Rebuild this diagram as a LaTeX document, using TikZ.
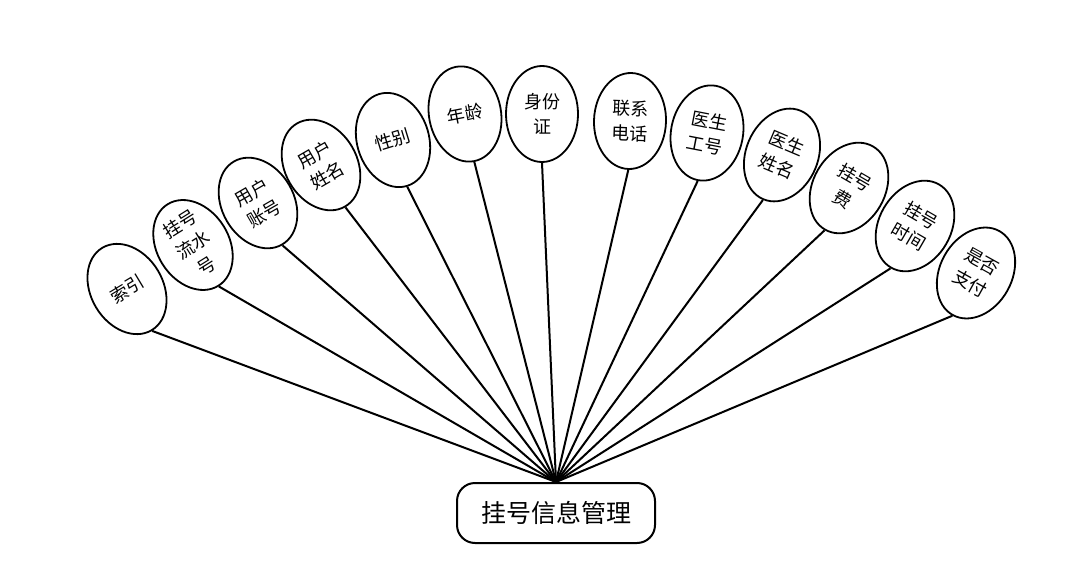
\documentclass[tikz,border=0pt]{standalone}
\usepackage{fontspec}
\newfontfamily\cjk{Noto Sans CJK SC}
\usetikzlibrary{shapes.geometric}

\tikzset{
  attr/.style={draw, ellipse, line width=1.8pt, minimum width=72pt, minimum height=96pt,
    inner sep=0pt, align=center, font=\cjk\fontsize{18}{25}\selectfont},
  entity/.style={draw, rounded corners=18pt, line width=2pt, minimum width=198pt,
    minimum height=60pt, font=\cjk\fontsize{25}{30}\selectfont},
  link/.style={line width=2pt}
}

\begin{document}
\begin{tikzpicture}[x=1pt,y=-1pt]
        \useasboundingbox (0,0) rectangle (1071,583);

        \node[entity] (mgr) at (556,513) {挂号信息管理};

        \node[attr, rotate=31] (idx) at (127,289) {索引};
        \node[attr, rotate=32] (serial) at (193,245) {挂号\\流水\\号};
        \node[attr, rotate=30] (account) at (258,203) {用户\\账号};
        \node[attr, rotate=30] (uname) at (321,165) {用户\\姓名};
        \node[attr, rotate=17] (gender) at (393,140) {性别};
        \node[attr, rotate=11] (age) at (465,114) {年龄};
        \node[attr] (idcard) at (542,114) {身份\\证};
        \node[attr, rotate=-2] (phone) at (630,121) {联系\\电话};
        \node[attr, rotate=-11] (docno) at (707,133) {医生\\工号};
        \node[attr, rotate=-23] (docname) at (782,155) {医生\\姓名};
        \node[attr, rotate=-30] (fee) at (849,188) {挂号\\费};
        \node[attr, rotate=-30] (time) at (915,226) {挂号\\时间};
        \node[attr, rotate=-29] (paid) at (976,273) {是否\\支付};

        \draw[link] (idx.south) -- (mgr.north);
        \draw[link] (serial.south) -- (mgr.north);
        \draw[link] (account.south) -- (mgr.north);
        \draw[link] (uname.south) -- (mgr.north);
        \draw[link] (gender.south) -- (mgr.north);
        \draw[link] (age.south) -- (mgr.north);
        \draw[link] (idcard.south) -- (mgr.north);
        \draw[link] (phone.south) -- (mgr.north);
        \draw[link] (docno.south) -- (mgr.north);
        \draw[link] (docname.south) -- (mgr.north);
        \draw[link] (fee.south) -- (mgr.north);
        \draw[link] (time.south) -- (mgr.north);
        \draw[link] (paid.south) -- (mgr.north);
\end{tikzpicture}
\end{document}
